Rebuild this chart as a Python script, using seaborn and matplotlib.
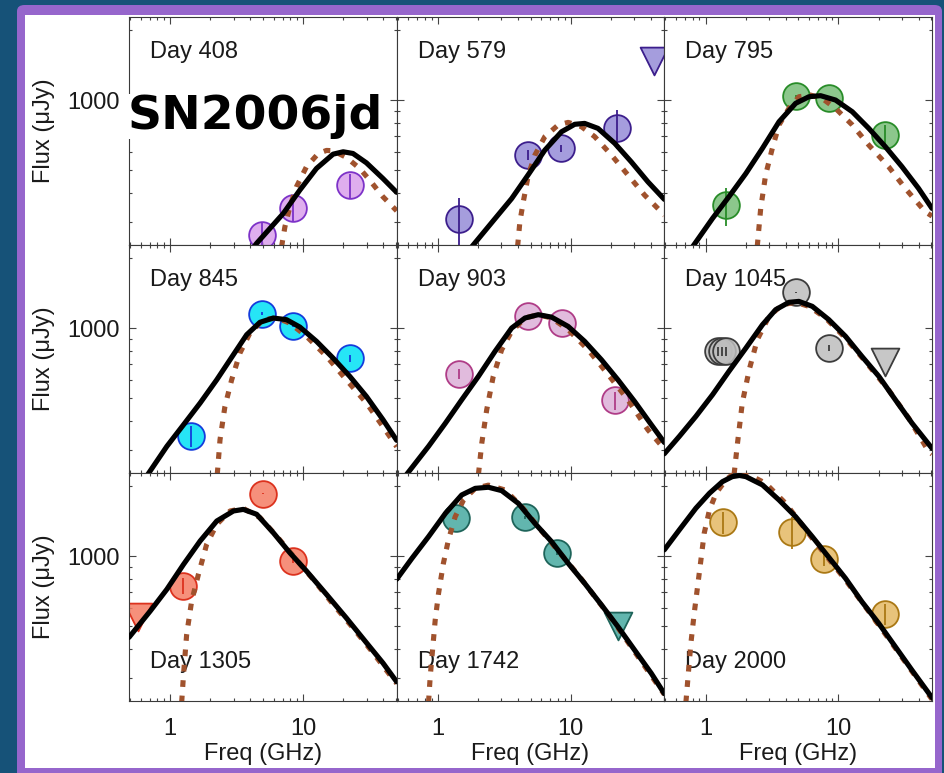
import matplotlib
matplotlib.use("Agg")
import matplotlib.pyplot as plt
import pandas as pd
import seaborn as sns
from matplotlib.patches import FancyBboxPatch
from matplotlib.ticker import FixedLocator, FixedFormatter, NullFormatter
from matplotlib.colors import to_rgba

# ---------------------------------------------------------------- data
days = [408, 579, 795, 845, 903, 1045, 1305, 1742, 2000]

# detections: frequency (GHz), flux density (uJy), 1-sigma error (uJy)
det_freq = {
    408: [4.87, 8.41, 22.4],
    579: [1.43, 4.79, 8.41, 22.4],
    795: [1.42, 4.76, 8.46, 22.5],
    845: [1.43, 4.87, 8.32, 22.4],
    903: [1.43, 4.79, 8.51, 21.6],
    1045: [1.25, 1.33, 1.42, 4.81, 8.46],
    1305: [1.24, 5.01, 8.41],
    1742: [1.37, 4.52, 7.81],
    2000: [1.36, 4.44, 7.76, 22.5],
}
det_flux = {
    408: [263, 343, 431],
    579: [309, 581, 621, 761],
    795: [354, 1040, 1023, 708],
    845: [345, 1152, 1023, 741],
    903: [637, 1129, 1051, 489],
    1045: [794, 794, 794, 1422, 820],
    1305: [744, 1853, 952],
    1742: [1452, 1465, 1033],
    2000: [1394, 1271, 968, 564],
}
det_err = {
    408: [35, 42, 50],
    579: [70, 30, 20, 142],
    795: [65, 10, 10, 75],
    845: [35, 15, 15, 25],
    903: [30, 12, 12, 45],
    1045: [38, 38, 38, 10, 25],
    1305: [60, 15, 15],
    1742: [20, 20, 20],
    2000: [150, 195, 60, 60],
}

# 3-sigma upper limits
lim_freq = {579: [42.5], 1045: [22.3], 1305: [0.57], 1742: [22.6]}
lim_flux = {579: [1470], 1045: [717], 1305: [547], 1742: [502]}

# synchrotron self-absorption model (solid)
ssa_freq = {
    408: [4.2, 4.47, 7.08, 9.44, 12.6, 16.8, 20.0, 23.7, 29.9, 39.8, 50.5],
    579: [1.80, 2.69, 3.59, 4.79, 6.38, 8.51, 10.7, 12.7, 16.0, 21.4, 28.5, 38.0, 50.5],
    795: [0.80, 1.13, 1.50, 2.01, 2.68, 3.57, 4.76, 5.99, 7.33, 9.50, 12.7, 16.9, 22.5, 30.0, 40.0, 50.5],
    845: [0.68, 0.944, 1.26, 1.68, 2.24, 2.99, 3.76, 4.73, 5.96, 7.50, 9.44, 12.6, 16.8, 22.4, 29.9, 39.8, 50.5],
    903: [0.57, 0.851, 1.14, 1.51, 2.02, 2.69, 3.59, 4.52, 5.69, 7.16, 9.55, 12.7, 17.0, 22.6, 30.2, 40.3, 50.5],
    1045: [0.49, 0.635, 0.846, 1.13, 1.50, 2.01, 2.68, 3.37, 4.24, 5.04, 6.35, 8.46, 11.3, 15.0, 20.1, 26.8, 35.7, 50.5],
    1305: [0.49, 0.708, 0.944, 1.26, 1.68, 2.24, 2.99, 3.55, 4.47, 5.96, 7.94, 10.6, 15.0, 21.1, 29.9, 39.8, 50.5],
    1742: [0.49, 0.638, 0.851, 1.14, 1.51, 1.91, 2.40, 3.02, 4.03, 5.37, 7.16, 9.55, 12.7, 17.0, 22.6, 30.2, 40.3, 50.5],
    2000: [0.49, 0.635, 0.846, 1.07, 1.34, 1.59, 1.80, 2.01, 2.68, 3.57, 4.76, 6.35, 8.46, 11.3, 15.0, 20.1, 26.8, 35.7, 50.5],
}
ssa_flux = {
    408: [232, 243, 326, 411, 509, 586, 600, 590, 538, 461, 402],
    579: [235, 310, 378, 479, 610, 731, 787, 794, 756, 652, 543, 446, 375],
    795: [235, 311, 385, 484, 621, 807, 968, 1033, 1044, 1000, 891, 756, 631, 518, 418, 343],
    845: [236, 311, 385, 477, 600, 769, 936, 1058, 1104, 1086, 1010, 877, 743, 621, 509, 405, 330],
    903: [232, 311, 391, 492, 621, 794, 1000, 1104, 1141, 1114, 1016, 877, 731, 600, 484, 385, 323],
    1045: [289, 343, 418, 518, 652, 820, 1033, 1199, 1289, 1301, 1239, 1086, 921, 756, 621, 492, 391, 305],
    1305: [448, 581, 720, 921, 1160, 1413, 1560, 1585, 1510, 1259, 1033, 862, 684, 543, 425, 348, 289],
    1742: [795, 977, 1211, 1524, 1827, 1951, 1972, 1907, 1682, 1380, 1153, 931, 764, 617, 498, 395, 314, 257],
    2000: [1063, 1294, 1603, 1858, 2084, 2190, 2215, 2190, 2018, 1739, 1475, 1211, 987, 802, 637, 514, 408, 324, 247],
}

# free-free absorption model (dotted)
ffa_freq = {
    408: [6.88, 7.29, 7.94, 8.91, 10.6, 13.0, 15.0, 16.8, 21.1, 26.6, 31.6, 39.8, 50.5],
    579: [3.98, 4.14, 4.39, 4.79, 5.37, 6.38, 8.04, 9.55, 12.0, 15.1, 20.2, 26.9, 35.9, 46.5, 50.5],
    795: [2.45, 2.60, 2.83, 3.18, 3.57, 4.24, 5.04, 6.17, 7.54, 9.50, 12.7, 16.9, 23.8, 31.8, 44.9, 50.5],
    845: [2.26, 2.37, 2.58, 2.90, 3.35, 3.98, 5.01, 6.31, 7.94, 10.6, 15.0, 21.1, 29.9, 39.8, 50.5],
    903: [2.02, 2.14, 2.33, 2.61, 3.02, 3.59, 4.52, 5.69, 7.16, 9.55, 13.5, 19.1, 26.9, 38.0, 50.5],
    1045: [1.64, 1.74, 1.89, 2.13, 2.45, 3.00, 3.78, 4.76, 5.99, 7.99, 11.3, 15.9, 23.8, 33.7, 47.6, 50.5],
    1305: [1.22, 1.26, 1.33, 1.45, 1.63, 1.88, 2.24, 2.82, 3.55, 4.73, 6.31, 8.41, 11.9, 16.8, 23.7, 33.5, 48.7, 50.5],
    1742: [0.851, 0.876, 0.912, 0.955, 1.01, 1.10, 1.20, 1.35, 1.56, 1.91, 2.40, 3.20, 4.27, 6.38, 11.4, 20.2, 50.5],
    2000: [0.712, 0.746, 0.776, 0.822, 0.871, 0.923, 0.977, 1.07, 1.20, 1.42, 1.64, 2.13, 2.83, 4.00, 6.35, 11.3, 20.1, 50.5],
}
ffa_flux = {
    408: [235, 286, 348, 425, 518, 590, 608, 606, 568, 509, 454, 385, 335],
    579: [236, 301, 366, 477, 581, 697, 782, 802, 769, 697, 581, 477, 391, 337, 320],
    795: [236, 343, 477, 621, 782, 921, 1033, 1050, 1016, 921, 782, 641, 518, 418, 332, 318],
    845: [236, 332, 461, 600, 782, 952, 1086, 1104, 1050, 921, 756, 600, 477, 378, 310],
    903: [236, 321, 446, 621, 807, 968, 1104, 1141, 1104, 984, 807, 631, 492, 366, 303],
    1045: [236, 321, 477, 662, 891, 1122, 1259, 1289, 1239, 1104, 906, 720, 543, 411, 296, 288],
    1305: [236, 311, 461, 641, 834, 1122, 1367, 1560, 1600, 1462, 1219, 1000, 794, 621, 492, 385, 291, 285],
    1742: [236, 304, 395, 531, 687, 929, 1171, 1475, 1738, 1951, 2014, 1919, 1629, 1231, 828, 540, 255],
    2000: [236, 324, 422, 568, 738, 961, 1251, 1574, 1858, 2119, 2264, 2228, 2051, 1683, 1191, 789, 506, 243],
}

fill_colors = {
    408: "#daa0eb", 579: "#968cd7", 795: "#78be78",
    845: "#00e1f5", 903: "#dcafd7", 1045: "#bebebe",
    1305: "#f57d64", 1742: "#46aaa0", 2000: "#e4b964",
}
edge_colors = {
    408: "#7d32c8", 579: "#3c1e8c", 795: "#288c28",
    845: "#143cdc", 903: "#af3c87", 1045: "#3c3c3c",
    1305: "#dc321e", 1742: "#1e645a", 2000: "#aa7814",
}

x_ticks = [1, 10]
x_tick_labels = ["1", "10"]
x_minor = [0.5, 0.6, 0.7, 0.8, 0.9, 2, 3, 4, 5, 6, 7, 8, 9, 20, 30, 40, 50]
y_ticks = [1000]
y_tick_labels = ["1000"]
y_minor = [300, 400, 500, 600, 700, 800, 900, 2000]

# ---------------------------------------------------------------- style
sns.set_theme(style="ticks")
plt.rcParams["font.family"] = ["Liberation Sans", "DejaVu Sans"]
plt.rcParams["axes.edgecolor"] = "#3a3a3a"
plt.rcParams["axes.linewidth"] = 0.8

W, H = 944, 773
fig = plt.figure(figsize=(W / 100, H / 100), dpi=100)
fig.patch.set_facecolor("#165278")

# purple slide frame with white card inside
frame = FancyBboxPatch((17 / W, -0.02), (942 - 17) / W, 1.02 - 5 / H,
                       boxstyle="round,pad=0,rounding_size=0.008",
                       transform=fig.transFigure, facecolor="#9666cc",
                       edgecolor="none", zorder=-10)
card = FancyBboxPatch((25 / W, 1 - 768 / H), (935 - 25) / W, (768 - 15) / H,
                      boxstyle="square,pad=0", transform=fig.transFigure,
                      facecolor="white", edgecolor="none", zorder=-9)
fig.add_artist(frame)
fig.add_artist(card)

axes = fig.subplots(3, 3, sharex=True, sharey=True,
                    gridspec_kw=dict(left=129 / W, right=932 / W,
                                     top=1 - 17 / H, bottom=1 - 701 / H,
                                     wspace=0, hspace=0))

FS = 17
LW = 3.7
brown = "#a0522d"

for i, (ax, day) in enumerate(zip(axes.flat, days)):
    row, col = divmod(i, 3)
    ax.set_xscale("log")
    ax.set_yscale("log")
    ax.set_facecolor("white")

    fill = to_rgba(fill_colors[day], 0.85)
    edge = edge_colors[day]

    det = pd.DataFrame({"freq": det_freq[day], "flux": det_flux[day],
                        "err": det_err[day]})
    sns.scatterplot(data=det, x="freq", y="flux", ax=ax, s=370, color=fill,
                    edgecolor=edge, linewidth=1.3, legend=False, zorder=2)
    ax.errorbar(det["freq"], det["flux"], yerr=det["err"], fmt="none",
                ecolor=edge, elinewidth=1.3, capsize=0, zorder=3)

    if day in lim_freq:
        lim = pd.DataFrame({"freq": lim_freq[day], "flux": lim_flux[day]})
        sns.scatterplot(data=lim, x="freq", y="flux", ax=ax, marker="v",
                        s=400, color=fill, edgecolor=edge, linewidth=1.3,
                        legend=False, zorder=2)

    ffa = pd.DataFrame({"freq": ffa_freq[day], "flux": ffa_flux[day]})
    sns.lineplot(data=ffa, x="freq", y="flux", ax=ax, color=brown,
                 linewidth=LW, linestyle=(0, (1.3, 1.7)), sort=False,
                 estimator=None, zorder=4)
    ssa = pd.DataFrame({"freq": ssa_freq[day], "flux": ssa_flux[day]})
    sns.lineplot(data=ssa, x="freq", y="flux", ax=ax, color="black",
                 linewidth=LW, sort=False, estimator=None, zorder=5)

    ax.set_xlim(0.49, 50.5)
    ax.set_ylim(239, 2270)

    ty = 0.145 if row == 2 else 0.82
    ax.text(0.078, ty, f"Day {day}", transform=ax.transAxes, fontsize=FS,
            ha="left", va="baseline", color="#1a1a1a", zorder=1.5)

    ax.tick_params(which="both", direction="in", top=True, right=True,
                   color="#444444", width=0.8, labelsize=FS,
                   labelcolor="#1a1a1a")
    ax.tick_params(which="major", length=5)
    ax.tick_params(which="minor", length=2.5)
    ax.tick_params(axis="x", which="major", pad=12)
    ax.tick_params(axis="y", which="major", pad=6.5)

    ax.set_xlabel("")
    ax.set_ylabel("")
    if row == 2:
        ax.set_xlabel("Freq (GHz)", fontsize=FS, color="#1a1a1a")
        ax.xaxis.set_label_coords(0.5, -0.184)
    if col == 0:
        ax.set_ylabel("Flux (\u03bcJy)", fontsize=FS, color="#1a1a1a")
        ax.yaxis.set_label_coords(-0.277, 0.5)

axes[0, 0].xaxis.set_major_locator(FixedLocator(x_ticks))
axes[0, 0].xaxis.set_major_formatter(FixedFormatter(x_tick_labels))
axes[0, 0].xaxis.set_minor_locator(FixedLocator(x_minor))
axes[0, 0].xaxis.set_minor_formatter(NullFormatter())
axes[0, 0].yaxis.set_major_locator(FixedLocator(y_ticks))
axes[0, 0].yaxis.set_major_formatter(FixedFormatter(y_tick_labels))
axes[0, 0].yaxis.set_minor_locator(FixedLocator(y_minor))
axes[0, 0].yaxis.set_minor_formatter(NullFormatter())
for ax in axes.flat:
    ax.label_outer()

fig.text(128 / W, 1 - 129 / H, "SN2006jd", fontsize=34, fontweight="bold",
         family="DejaVu Sans", ha="left", va="baseline", color="black",
         bbox=dict(facecolor="white", edgecolor="none", pad=0), zorder=10)

fig.savefig("out.png", dpi=100, facecolor=fig.get_facecolor())
